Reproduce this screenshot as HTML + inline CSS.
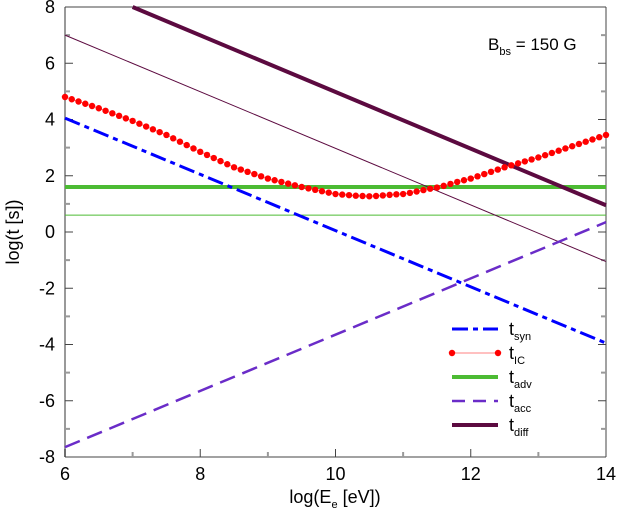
<!DOCTYPE html>
<html><head><meta charset="utf-8"><style>
body{margin:0;background:#fff;}
svg text{font-family:"Liberation Sans",Arial,sans-serif;fill:#000;}
</style></head><body>
<svg id="chart" width="617" height="512" xmlns="http://www.w3.org/2000/svg">
<g id="axes"></g><g id="series"></g><g id="legend"></g>
<text x="488" y="50" font-size="17">B<tspan font-size="11" dy="5">bs</tspan><tspan dy="-5"> = 150 G</tspan></text>
<text x="335" y="503" font-size="18" text-anchor="middle">log(E<tspan font-size="11" dy="5">e</tspan><tspan dy="-5"> [eV])</tspan></text>
<text transform="translate(19,232) rotate(-90)" font-size="18" text-anchor="middle">log(t [s])</text>
</svg>
<script>
const xTicks=[6,8,10,12,14];
const yTicks=[-8,-6,-4,-2,0,2,4,6,8];
const synX=[6,14], synY=[4.05,-3.95];
const accX=[6,14], accY=[-7.65,0.35];
const diffX=[7,14], diffY=[8,0.95];
const diffThinX=[6,14], diffThinY=[7,-1.05];
const advY=1.6, advThinY=0.6;
const icX0=6, icStep=0.1;
const icY=[4.8,4.72,4.64,4.56,4.48,4.4,4.31,4.22,4.13,4.04,3.95,3.85,3.75,3.65,3.55,3.45,3.33,3.21,3.09,2.97,2.85,2.74,2.63,2.52,2.41,2.3,2.22,2.14,2.06,1.98,1.9,1.84,1.78,1.72,1.66,1.6,1.55,1.5,1.45,1.4,1.35,1.33,1.31,1.29,1.28,1.27,1.28,1.3,1.32,1.34,1.35,1.39,1.44,1.49,1.54,1.58,1.64,1.71,1.78,1.84,1.9,1.98,2.06,2.14,2.22,2.3,2.37,2.44,2.51,2.58,2.65,2.73,2.81,2.89,2.97,3.05,3.13,3.21,3.29,3.37,3.45];
const L=65,R=606,T=7,B=457;
const sx=v=>L+(v-6)/8*(R-L);
const sy=v=>T+(8-v)/16*(B-T);
const NS="http://www.w3.org/2000/svg";
function mk(tag,parent,attrs){const e=document.createElementNS(NS,tag);for(const k in attrs)e.setAttribute(k,attrs[k]);parent.appendChild(e);return e;}
const axes=document.getElementById('axes'),ser=document.getElementById('series'),leg=document.getElementById('legend');
// frame
let f=mk('line',axes,{x1:L,y1:T,x2:R,y2:T,stroke:'#444','stroke-width':1});

f=mk('line',axes,{x1:R,y1:T,x2:R,y2:B,stroke:'#444','stroke-width':1});

f=mk('line',axes,{x1:L,y1:B,x2:R,y2:B,stroke:'#444','stroke-width':1});

f=mk('line',axes,{x1:L,y1:T,x2:L,y2:B,stroke:'#999','stroke-width':2});

for(let i=0;i<xTicks.length;i++){const v=xTicks[i];const x=sx(v);
 let t=mk('line',axes,{x1:x,y1:B,x2:x,y2:B-8,stroke:'#444'});
 
 if(i<xTicks.length-1){const m=sx(v+1);t=mk('line',axes,{x1:m,y1:B,x2:m,y2:B-5,stroke:'#999','stroke-width':2});
 }
 const lb=mk('text',axes,{x:x,y:B+23,'font-size':18,'text-anchor':'middle'});lb.textContent=v;
 }
for(let i=0;i<yTicks.length;i++){const v=yTicks[i];const y=sy(v);
 for(const [x1,x2] of [[L,L+8],[R,R-8]]){let t=mk('line',axes,{x1:x1,y1:y,x2:x2,y2:y,stroke:'#444'});
 }
 if(i<yTicks.length-1){const m=sy(v+1);for(const [x1,x2] of [[L,L+5],[R,R-5]]){let t=mk('line',axes,{x1:x1,y1:m,x2:x2,y2:m,stroke:'#999','stroke-width':2});
 }}
 const lb=mk('text',axes,{x:L-10,y:y+6,'font-size':18,'text-anchor':'end'});lb.textContent=v;
 }
function line(xs,ys,st){return mk('line',ser,Object.assign({x1:sx(xs[0]),y1:sy(ys[0]),x2:sx(xs[1]),y2:sy(ys[1])},st));}
let s;
s=line([6,14],[advThinY,advThinY],{stroke:'#4cbb33','stroke-width':1});

s=line([6,14],[advY,advY],{stroke:'#4cbb33','stroke-width':4});

s=line(diffThinX,diffThinY,{stroke:'#5c0a40','stroke-width':1});

s=line(diffX,diffY,{stroke:'#5c0a40','stroke-width':4});

s=line(synX,synY,{stroke:'#0000ff','stroke-width':3,'stroke-dasharray':'16 5 5 5'});

s=line(accX,accY,{stroke:'#6a2cc8','stroke-width':2.5,'stroke-dasharray':'16 8'});

const pts=icY.map((v,i)=>sx(icX0+i*icStep)+','+sy(v)).join(' ');
s=mk('polyline',ser,{points:pts,fill:'none',stroke:'#ff8080','stroke-width':1});

icY.forEach((v,i)=>{const c=mk('circle',ser,{cx:sx(icX0+i*icStep),cy:sy(v),r:3.2,fill:'#ff0000'});
 });
// legend
const rows=[['syn',329],['IC',353],['adv',377],['acc',401],['diff',425]];
const styles={syn:{stroke:'#0000ff','stroke-width':3,'stroke-dasharray':'16 5 5 5'},IC:{stroke:'#ff8080','stroke-width':1},adv:{stroke:'#4cbb33','stroke-width':4},acc:{stroke:'#6a2cc8','stroke-width':2.5,'stroke-dasharray':'13 8'},diff:{stroke:'#5c0a40','stroke-width':4}};
rows.forEach(([k,y])=>{const g=mk('g',leg,{});
 
 mk('line',g,Object.assign({x1:452,y1:y,x2:498,y2:y},styles[k]));
 if(k==='IC'){mk('circle',g,{cx:452,cy:y,r:3.2,fill:'#f00'});mk('circle',g,{cx:498,cy:y,r:3.2,fill:'#f00'});}
 const t=mk('text',g,{x:509,y:y+6,'font-size':18});
 t.innerHTML='t<tspan font-size="11" dy="5">'+k+'</tspan>';});
</script>
</body></html>
